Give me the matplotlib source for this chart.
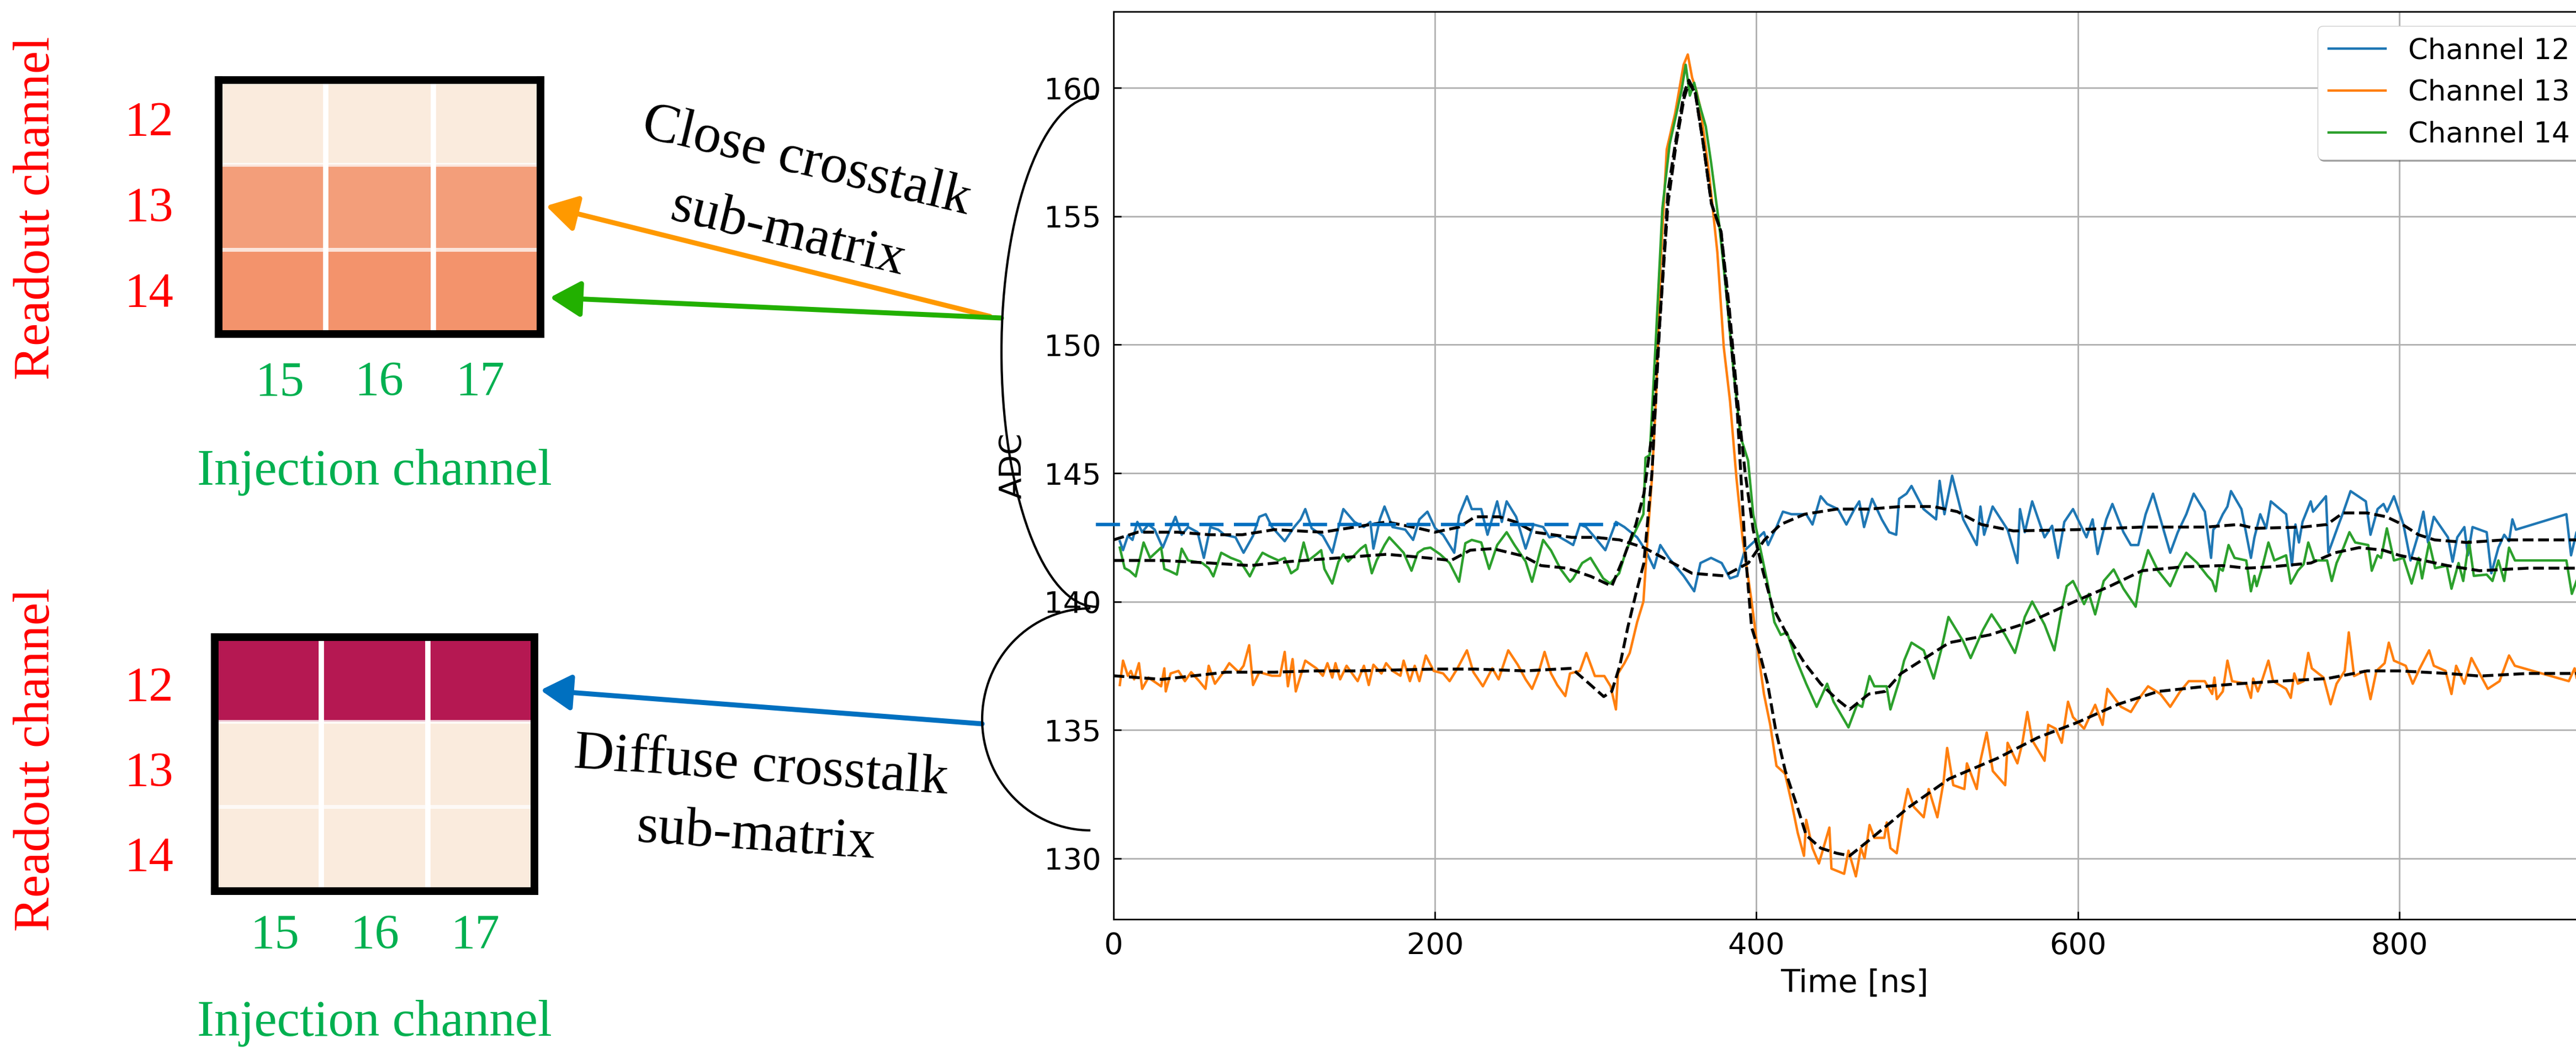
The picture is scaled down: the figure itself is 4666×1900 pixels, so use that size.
import numpy as np
import matplotlib.pyplot as plt
from matplotlib.patches import Arc, FancyArrowPatch
from matplotlib.colors import LinearSegmentedColormap

# ---- waveform samples: (time [ns], ADC) ----
ch12 = [(3.9,142.35),(5.9,142.0),(8.9,142.56),(11.8,142.4),(14.8,143.1),(17.8,142.7),(21.7,143.0),(25.6,142.8),
        (30.6,142.1),(34.5,142.7),(38.5,143.3),(42.4,142.6),(46.4,142.9),(52.3,142.7),(56.2,141.7),(60.2,142.9),
        (65.1,142.8),(69,142.6),(75.9,142.5),(80.9,141.9),(86.8,142.56),(90.7,143.3),(94.7,143.4),(98.6,142.9),
        (106.5,142.35),(112.4,142.9),(116.4,143.2),(119.3,143.6),(123.3,142.85),(130.2,142.56),(136.1,141.9),
        (140,142.9),(143,143.6),(149.9,143.1),(155.8,142.9),(159.8,143.1),(161.7,142.06),(165.7,143.2),(168.6,143.7),
        (173.6,142.9),(181.5,142.8),(186.4,142.4),(190.3,143.2),(195.3,143.5),(200.2,142.85),(205.1,142.6),(212,141.9),
        (215,143.35),(219.9,144.1),(222.9,143.6),(228.8,143.6),(232.7,142.6),(238.7,143.9),(241.6,143.1),(244.6,143.9),
        (250.5,143.3),(256.4,142.06),(261.3,143.0),(267.3,142.9),(271.2,142.5),(276.1,142.56),(282,142.35),
        (286,142.2),(290.2,143.0),(294,142.9),(300.8,142.4),(306,142.0),(312.6,143.1),(317.9,142.9),(325.8,142.5),
        (331,142.0),(336.3,141.3),(340.2,142.2),(345.5,141.7),(354.7,141.0),(361.3,140.4),(365.2,141.5),(371.8,141.7),
        (378.4,141.5),(383.6,140.9),(388.2,141.0),(392.8,142.0),(398,142.3),(404.7,142.7),(407.3,142.2),(412.5,142.9),
        (416.5,143.5),(421.8,143.4),(431,143.4),(434.9,143.0),(440,144.1),(444,143.8),(450.7,143.6),(456,143.0),
        (461,143.6),(464,143.9),(467,142.9),(472,144.0),(478,143.2),(482.6,142.7),(487,142.6),(488.8,144.0),
        (493.4,144.2),(496.5,144.5),(504,143.6),(511.8,143.2),(514,144.7),(517,143.4),(521.8,144.9),(528.7,143.2),
        (537.1,142.2),(539.4,143.7),(541.7,142.6),(547,143.7),(556.3,142.8),(562.4,141.5),(564,143.6),(567,142.7),
        (571.6,143.9),(579.3,142.5),(584,142.95),(587.7,141.7),(591.6,143.1),(597,143.6),(605.4,142.5),(609.2,143.2),
        (612.3,141.85),(617.7,143.2),(621.5,143.8),(628.4,142.7),(633,142.2),(637.6,142.2),(642.2,143.4),(646.8,144.2),
        (657.5,141.9),(662.2,142.7),(667.5,143.4),(672.1,144.2),(679,143.5),(682.9,141.7),(684.3,142.8),(687.2,143.0),
        (690.2,143.4),(693.1,143.7),(695.3,144.3),(701.8,143.6),(707.7,141.7),(709.9,142.5),(713.5,143.4),(717.2,142.85),
        (720.1,143.9),(729.6,143.4),(733.2,141.4),(735.4,143.0),(737.6,142.3),(739.8,143.1),(744.9,143.9),(746.4,143.5),
        (754.4,144.1),(755.9,141.9),(761.7,142.9),(765.3,143.5),(769.7,144.3),(779.2,143.9),(782.1,142.6),(786.5,143.6),
        (790.2,143.8),(792.4,143.5),(796.7,144.1),(802.6,143.0),(807,141.6),(811.3,142.5),(815,143.5),(817.9,142.3),
        (821.5,143.3),(830.3,142.5),(833.2,141.55),(836.1,142.5),(840.5,142.9),(842.7,141.8),(845.6,142.9),(854.4,142.7),
        (857.3,141.1),(861.7,142.1),(865.3,142.6),(868.3,142.35),(870.4,143.2),(872.6,142.8),(904,143.4),(906.9,141.8),
        (910.3,142.7),(916,142.4),(922,142.6)]

ch13 = [(3.9,136.75),(5.9,137.7),(8.9,137.11),(10.8,137.3),(12.8,136.97),(15.8,137.6),(17.8,136.6),(21.7,137.04),
        (29.6,136.7),(31.6,137.4),(32.5,136.5),(35.5,137.2),(40.4,137.3),(44.4,136.9),(48.3,137.25),(53.3,136.9),
        (57.2,136.6),(59.2,137.5),(63.1,136.8),(69,137.3),(72,137.6),(77.9,137.25),(80.9,137.5),(84.4,138.3),
        (86.8,136.75),(90.7,137.25),(98.6,137.11),(103.6,137.11),(106.5,138.04),(108.5,136.7),(111.4,137.76),
        (113.4,136.5),(119.3,137.7),(126.2,137.4),(130.2,137.11),(133.1,137.6),(136.1,137.04),(138.1,137.6),
        (141,136.97),(145,137.5),(151.9,136.9),(155.8,137.5),(158.8,136.75),(161.7,137.54),(166.7,137.2),(169.6,137.6),
        (173.6,137.3),(178.5,137.11),(180.5,137.7),(184.4,136.9),(187.4,137.5),(190.3,136.9),(194.3,137.9),(199.2,137.3),
        (205.1,137.2),(209.1,136.9),(214,137.4),(219.9,138.1),(223.9,137.25),(229.8,136.7),(235.7,137.4),(239.6,136.97),
        (245.6,138.1),(251.5,137.54),(256.4,136.97),(260.4,136.6),(264.3,137.2),(268.2,138.04),(272.2,137.2),
        (276.1,136.75),(281.1,136.32),(284,137.2),(290.2,137.3),(294.2,138.0),(299.5,137.1),(305.4,137.1),(309.3,136.7),
        (312.6,135.8),(313.9,137.2),(317.9,137.6),(321.2,138.0),(325.8,139.2),(329.7,140.0),(332.3,142.5),(335,144.8),
        (337.6,148.0),(340.2,152.9),(344.2,157.6),(349.4,159.0),(354.7,160.9),(357.3,161.3),(360,160.4),(362.6,159.9),
        (365.2,159.2),(370.5,156.7),(375.7,153.6),(379.7,149.9),(383.6,147.8),(387.6,144.8),(391.5,142.4),(396.8,140.1),
        (400.7,138.2),(404.7,136.4),(408.6,135.2),(412.5,133.6),(417.8,133.3),(421.8,132.2),(425.7,131.0),(429.6,130.1),
        (431,131.5),(434.9,130.4),(438.9,129.8),(445.4,131.2),(446.7,129.6),(454.6,129.4),(457.3,130.3),(461.9,129.3),
        (465,130.4),(467.3,130.0),(470.4,131.3),(473.4,130.8),(479.6,130.8),(481.1,131.4),(483.4,130.4),(487.3,130.2),
        (491.1,131.75),(494.2,132.7),(498,132.0),(504.1,131.6),(507.2,132.7),(512.6,131.6),(516.4,132.96),(518.7,134.3),
        (522.5,132.85),(529.4,132.7),(531,133.7),(537.1,132.7),(539.4,133.8),(543.3,134.9),(547.1,133.4),(554.8,132.85),
        (556.3,134.5),(562.4,133.7),(565.5,134.5),(568.6,135.7),(571.6,134.6),(579.3,133.8),(581.6,135.2),(586.2,135.05),
        (590,134.5),(593.9,136.1),(597,135.5),(603.9,135.05),(610.8,135.98),(615.4,135.2),(618.4,136.6),(626.9,135.9),
        (633,135.7),(638.4,136.25),(643.7,136.7),(651.4,136.4),(657.5,135.9),(663.7,136.5),(669,136.9),(679,136.9),
        (683.6,136.4),(685,137.04),(686.5,136.2),(690.2,136.5),(693.1,137.7),(696,136.9),(704.8,136.8),(707.7,136.25),
        (709.1,137.0),(712,136.5),(715,137.0),(718.6,137.7),(721.5,136.9),(729.6,136.6),(732.5,136.25),(734.7,137.2),
        (736.9,136.8),(740.5,136.9),(743.4,138.0),(745.6,137.4),(752.9,137.04),(757.3,136.0),(761,136.8),(766.1,137.3),
        (768.6,138.8),(771.9,137.1),(778.5,137.3),(782.1,136.2),(785.8,137.3),(790.9,137.6),(793.5,138.4),(796.7,137.7),
        (804,137.5),(808.4,136.8),(812.8,137.4),(818.6,138.1),(821.5,137.5),(828.8,137.3),(832.5,136.4),(835.4,137.5),
        (840.5,136.8),(844.9,137.8),(855.1,136.6),(862.4,136.9),(868.3,137.9),(871.9,137.5),(905.5,136.9),(909.1,137.4),
        (910.3,137.04),(916,136.8),(922,137.1)]

ch14 = [(3.9,142.1),(6.9,141.3),(9.9,141.2),(13.8,140.98),(18.7,142.3),(22.7,141.7),(29.6,142.1),(31.6,141.27),
        (34.5,141.2),(39.4,141.05),(42.4,142.06),(46.4,141.6),(55.2,141.5),(59.2,141.3),(62.1,140.98),(67,141.9),
        (73,141.7),(78.9,141.56),(84.8,140.98),(88.8,141.5),(92.7,141.9),(96.6,141.77),(102.6,141.6),(106.5,141.7),
        (110.5,141.1),(114.4,141.27),(118.3,142.3),(121.3,141.6),(126.2,141.84),(129.2,142.0),(131.2,141.27),
        (136.1,140.7),(140,141.56),(143,141.84),(146,141.56),(153.8,142.06),(156.8,142.2),(160.7,141.1),(163.7,141.6),
        (168.6,142.2),(171.6,142.5),(177.5,142.1),(180.5,141.9),(185.4,141.2),(189.3,141.9),(193.3,142.06),(197.2,142.1),
        (203.2,141.84),(209.1,141.5),(215,140.77),(218.9,142.27),(222.9,142.4),(228.8,142.3),(233.7,141.27),
        (238.7,142.2),(244.6,142.7),(249.5,142.2),(256.4,141.56),(260.4,140.77),(267.3,142.4),(272.2,141.99),
        (278.1,141.27),(284,140.77),(286,140.9),(291.6,141.5),(296.8,141.7),(304.7,140.9),(309,140.7),(314.6,141.1),
        (319,142.0),(329.7,143.4),(331,145.6),(333.6,145.7),(337.6,150.4),(341.5,155.3),(346,157.8),(353.4,159.9),
        (356,160.9),(358.6,159.7),(361.3,160.2),(363.9,159.5),(368.5,158.5),(371.8,157.1),(377,154.6),(381,152.2),
        (386.2,148.7),(390.2,146.4),(394.8,145.5),(398,143.4),(402,142.2),(407.3,140.6),(411.2,139.2),(415.2,138.7),
        (419,138.8),(424.4,137.8),(431,136.8),(437.5,135.9),(444,136.8),(448,136.1),(457.3,135.1),(462.7,136.0),
        (465.8,135.9),(470.4,137.1),(473.4,136.7),(481,136.7),(483.4,135.8),(488.8,136.9),(491.9,137.7),(496.5,138.4),
        (504.1,138.1),(510.3,137.0),(514.9,138.1),(519.5,139.4),(528.7,138.45),(533.3,137.8),(541,138.9),(546.3,139.5),
        (554.8,138.7),(560.9,138.0),(567,139.4),(571.6,140.0),(579.3,139.1),(585.4,138.1),(590,139.7),(593.1,140.6),
        (597,140.8),(603.9,139.9),(606.9,140.3),(610.8,139.5),(616.1,140.8),(622.3,141.25),(628.4,140.5),(636,139.8),
        (639.1,141.0),(643.7,142.0),(649.9,141.2),(657.5,140.6),(662.2,141.3),(667.5,141.9),(674.4,141.5),(680.6,141.0),
        (683.6,140.8),(685.8,140.4),(688,141.3),(690.2,141.2),(693.8,142.2),(697.5,141.7),(704.8,141.6),(707.7,140.4),
        (709.9,141.0),(711.3,140.6),(715,141.4),(718.6,142.3),(722.3,141.6),(729.6,141.8),(732.5,140.7),(736.9,141.2),
        (740.5,141.45),(743.4,142.3),(747.1,141.6),(755.1,141.6),(758,140.8),(761,141.5),(765.3,142.1),(769,142.7),
        (772.6,142.3),(780.7,142.2),(782.9,141.2),(786.5,141.8),(788.7,141.7),(792.3,142.85),(796.7,141.6),(802.6,141.7),
        (807.7,140.7),(812.1,141.7),(814.2,140.9),(818.6,142.3),(822.3,141.3),(829.6,141.4),(832.5,140.5),(836.9,141.5),
        (839.8,140.8),(843.4,142.35),(846.4,141.0),(854.4,141.05),(858,140.8),(861.7,141.6),(865.3,140.8),(868.3,142.1),
        (872,141.6),(904,141.6),(907.4,140.3),(910.3,140.8),(916,141.5),(922,141.2)]

# ---- fitted templates (black dashed) ----
fit12 = [(0,142.4),(15,142.7),(40,142.7),(60,142.6),(80,142.6),(100,142.8),(130,142.7),(150,142.9),(170,143.1),
         (190,142.85),(200,142.7),(215,142.9),(225,143.3),(240,143.3),(250,143.1),(262,142.7),(285,142.5),(300,142.5),
         (315,142.4),(330,142.1),(345,141.6),(360,141.1),(380,141.0),(395,141.5),(405,142.4),(415,143.0),(430,143.4),
         (450,143.6),(470,143.6),(490,143.7),(510,143.7),(525,143.5),(540,143.0),(560,142.75),(600,142.8),(640,142.9),
         (680,142.9),(700,143.0),(710,142.85),(740,142.9),(755,143.0),(765,143.45),(780,143.45),(792,143.3),(802,143.0),
         (812,142.6),(822,142.4),(842,142.3),(865,142.4),(922,142.4)]
fit13 = [(0,137.11),(30,136.97),(50,137.11),(70,137.25),(100,137.25),(125,137.3),(150,137.3),(200,137.37),(225,137.37),
         (256,137.3),(285,137.4),(296,136.8),(305,136.3),(310,136.5),(315,137.5),(320,139.0),(325,140.3),(330,141.5),
         (335,145.0),(340,151.0),(345,156.0),(350,158.0),(355,159.8),(358,160.3),(362,159.8),(367,157.8),(372,155.5),
         (378,154.4),(383,151.0),(388,147.5),(393,142.0),(397,139.0),(402,138.0),(407,136.8),(412,135.0),(418,133.4),
         (426,131.9),(431,130.9),(440,130.4),(450,130.2),(458,130.1),(470,130.7),(495,132.0),(520,133.1),(550,133.9),
         (575,134.7),(600,135.3),(625,136.0),(650,136.5),(680,136.7),(700,136.8),(725,136.9),(755,137.0),(780,137.3),
         (800,137.3),(830,137.2),(850,137.1),(880,137.2),(922,137.2)]
fit14 = [(0,141.6),(30,141.6),(60,141.5),(85,141.4),(110,141.56),(140,141.7),(170,141.84),(195,141.7),(210,141.6),
         (222,142.0),(236,142.06),(255,141.77),(266,141.4),(282,141.3),(297,140.98),(310,140.6),(318,141.8),(325,143.0),
         (330,144.2),(335,146.5),(340,151.0),(345,155.5),(350,157.8),(355,159.6),(358,160.2),(362,159.8),(367,157.8),
         (372,155.5),(378,154.4),(383,151.5),(388,148.0),(393,145.0),(398,142.8),(404,141.2),(410,139.8),(420,138.6),
         (430,137.6),(440,136.8),(450,136.2),(458,135.8),(470,136.4),(480,136.5),(490,137.2),(520,138.4),(545,138.7),
         (570,139.2),(598,140.0),(620,140.6),(640,141.2),(665,141.35),(690,141.4),(705,141.3),(720,141.35),(745,141.5),
         (760,141.9),(775,142.1),(790,142.0),(800,141.8),(815,141.6),(830,141.4),(850,141.2),(880,141.3),(922,141.3)]

labels = ['Channel 12', 'Channel 13', 'Channel 14']
colors = ['tab:blue', 'tab:orange', 'tab:green']
baseline12 = 143.0

# crosstalk sub-matrices (rows: readout 12-14, cols: injection 15-17)
readout = ['12', '13', '14']
injection = ['15', '16', '17']
close_mat = [[0.0, 0.0, 0.0], [0.35, 0.35, 0.35], [0.40, 0.40, 0.40]]
diffuse_mat = [[1.0, 1.0, 1.0], [0.0, 0.0, 0.0], [0.0, 0.0, 0.0]]

W, H = 4666, 1900
fig = plt.figure(figsize=(W / 100, H / 100), dpi=100)


def fx(x):
    return x / W


def fy(y):
    return 1 - y / H


# ---------------- waveform panel ----------------
ax = fig.add_axes([fx(2017), fy(1665), (4701 - 2017) / W, (1665 - 21) / H])
for data, lab, c in zip([ch12, ch13, ch14], labels, colors):
    t, v = np.array(data).T
    ax.plot(t, v, color=c, lw=3.2, label=lab)
for fit in [fit12, fit13, fit14]:
    t, v = np.array(fit).T
    ax.plot(t, v, 'k--', lw=3.8)
ax.plot([-11, 314], [baseline12, baseline12], color='#0070C0', lw=4.5,
        dashes=(7, 3), clip_on=False, zorder=5)

ax.set_xlim(0, 922)
ax.set_ylim(127.63, 162.97)
ax.set_xticks([0, 200, 400, 600, 800])
ax.set_yticks([130, 135, 140, 145, 150, 155, 160])
ax.grid(True, color='#b0b0b0', lw=2)
ax.tick_params(direction='in', length=10, width=2, labelsize=39, pad=16)
for s in ax.spines.values():
    s.set_linewidth(2)
ax.set_xlabel('Time [ns]', fontsize=41)
ax.xaxis.set_label_coords(0.5, -0.054)
ax.set_ylabel('ADC', fontsize=40)
ax.yaxis.set_label_coords(-0.058, 0.5)
ax.legend(loc='upper right', fontsize=37, shadow=True, framealpha=1)

# ---------------- sub-matrices ----------------
cmap = LinearSegmentedColormap.from_list('xt', [(0, '#FAEBDD'), (0.4, '#F3936C'), (1.0, '#B51852')])
serif = 'Liberation Serif'


def draw_matrix(box, values, row_y, col_x, title_y, side_y, tick_y):
    x0, y0, x1, y1 = box
    m = fig.add_axes([fx(x0), fy(y1), (x1 - x0) / W, (y1 - y0) / H])
    m.imshow(values, cmap=cmap, vmin=0, vmax=1, aspect='auto',
             extent=(-0.5, 2.5, 2.5, -0.5), interpolation='nearest')
    for p in (0.5, 1.5):
        m.axvline(p, color='white', lw=7)
        m.axhline(p, color='white', lw=5, alpha=0.75)
    m.set_xticks([])
    m.set_yticks([])
    for s in m.spines.values():
        s.set_linewidth(10)
        s.set_color('black')
    for lab, yy in zip(readout, row_y):
        fig.text(fx(270), fy(yy), lab, color='#FF0000', fontsize=64, family=serif,
                 ha='center', va='center')
    for lab, xx in zip(injection, col_x):
        fig.text(fx(xx), fy(tick_y), lab, color='#00B050', fontsize=64, family=serif,
                 ha='center', va='center')
    fig.text(fx(678), fy(title_y), 'Injection channel', color='#00B050', fontsize=67,
             family=serif, ha='center', va='center')
    fig.text(fx(67), fy(side_y), 'Readout channel', color='#FF0000', fontsize=67,
             family=serif, ha='center', va='center', rotation=90)


draw_matrix((396, 145, 979, 605), close_mat, [224, 379, 533], [507, 687, 870], 855, 377, 694)
draw_matrix((389, 1154, 968, 1614), diffuse_mat, [1247, 1402, 1556], [498, 679, 861], 1853, 1376, 1695)

# ---------------- annotations ----------------
for txt, xx, yy, rot in [('Close crosstalk', 1461, 293, -13.5), ('sub-matrix', 1428, 424, -13.5),
                         ('Diffuse crosstalk', 1378, 1390, -4), ('sub-matrix', 1370, 1515, -4)]:
    fig.text(fx(xx), fy(yy), txt, fontsize=72, family=serif, ha='center', va='center',
             rotation=rot, rotation_mode='anchor')

for (xa, ya), (xb, yb), c in [((1793, 573), (989, 373), '#FF9900'),
                              ((1814, 576), (996, 539), '#22B000'),
                              ((1779, 1311), (979, 1250), '#0070C0')]:
    fig.add_artist(FancyArrowPatch((fx(xa), fy(ya)), (fx(xb), fy(yb)), transform=fig.transFigure,
                                   arrowstyle='-|>,head_length=34,head_width=20', color=c, lw=6.5,
                                   shrinkA=0, shrinkB=0))

fig.add_artist(Arc((fx(1985), fy(637)), 2 * 171 / W, 2 * 462 / H, theta1=90, theta2=270,
                   transform=fig.transFigure, color='black', lw=3))
fig.add_artist(Arc((fx(1975), fy(1303)), 2 * 196 / W, 2 * 201 / H, theta1=90, theta2=270,
                   transform=fig.transFigure, color='black', lw=3))

fig.savefig('out.png', dpi=100)
